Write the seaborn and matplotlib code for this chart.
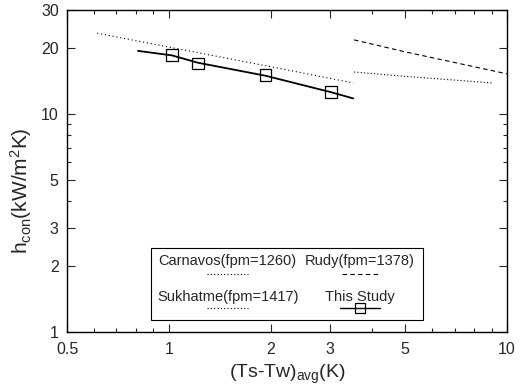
import numpy as np
import pandas as pd
import matplotlib
matplotlib.use("Agg")
import matplotlib.pyplot as plt
import seaborn as sns
from matplotlib.ticker import FixedLocator, NullFormatter, FixedFormatter

# Data
carnavos_x = [0.614, 1.0, 2.0, 3.51]
carnavos_y = [23.5, 20.3, 16.5, 13.9]

rudy_x = [3.53, 5.0, 10.0]
rudy_y = [21.9, 19.3, 15.3]

sukhatme_x = [3.53, 5.0, 9.04]
sukhatme_y = [15.6, 14.9, 13.9]

study_line_x = [0.81, 1.02, 1.22, 1.93, 3.02, 3.51]
study_line_y = [19.5, 18.6, 17.2, 15.0, 12.6, 11.8]
study_pts_x = [1.02, 1.22, 1.93, 3.02]
study_pts_y = [18.7, 17.1, 15.1, 12.6]

sns.set_style("ticks")
plt.rcParams['font.family'] = ['Liberation Sans', 'DejaVu Sans']
plt.rcParams['mathtext.fontset'] = 'custom'
plt.rcParams['mathtext.rm'] = 'Liberation Sans'
plt.rcParams['mathtext.it'] = 'Liberation Sans'

fig = plt.figure(figsize=(5.2, 3.88), dpi=100)
ax = fig.add_axes([0.129, 0.144, 0.846, 0.830])


def df(x, y):
    return pd.DataFrame({"x": x, "y": y})


sns.lineplot(data=df(carnavos_x, carnavos_y), x="x", y="y", ax=ax,
             color="black", lw=0.8, linestyle=(0, (1, 2.5)))
sns.lineplot(data=df(rudy_x, rudy_y), x="x", y="y", ax=ax,
             color="black", lw=0.8, linestyle=(0, (4, 3)))
sns.lineplot(data=df(sukhatme_x, sukhatme_y), x="x", y="y", ax=ax,
             color="black", lw=0.8, linestyle=(0, (1, 2)))
sns.lineplot(data=df(study_line_x, study_line_y), x="x", y="y", ax=ax,
             color="black", lw=1.3)
sns.scatterplot(data=df(study_pts_x, study_pts_y), x="x", y="y", ax=ax,
                marker="s", s=70, facecolor="none", edgecolor="black", linewidth=0.9)

ax.set_xscale("log")
ax.set_yscale("log")
ax.set_xlim(0.5, 10)
ax.set_ylim(1, 30)

xt = [0.5, 1, 2, 3, 5, 10]
yt = [1, 2, 3, 5, 10, 20, 30]
ax.xaxis.set_major_locator(FixedLocator(xt))
ax.xaxis.set_major_formatter(FixedFormatter(["0.5", "1", "2", "3", "5", "10"]))
ax.xaxis.set_minor_locator(FixedLocator([0.6, 0.7, 0.8, 0.9, 4, 6, 7, 8, 9]))
ax.xaxis.set_minor_formatter(NullFormatter())
ax.yaxis.set_major_locator(FixedLocator(yt))
ax.yaxis.set_major_formatter(FixedFormatter(["1", "2", "3", "5", "10", "20", "30"]))
ax.yaxis.set_minor_locator(FixedLocator([4, 6, 7, 8, 9]))
ax.yaxis.set_minor_formatter(NullFormatter())
ax.tick_params(which="both", direction="in", top=True, right=True, labelsize=11.5)
ax.tick_params(axis="x", which="major", pad=7)
ax.tick_params(axis="y", which="major", pad=6)
ax.tick_params(which="major", length=6, width=0.8)
ax.tick_params(which="minor", length=3, width=0.8)
for s in ax.spines.values():
    s.set_linewidth(1.0)
    s.set_color("black")

ax.set_xlabel("(Ts-Tw)$_{\\rm avg}$(K)", fontsize=14, labelpad=4)
ax.set_ylabel("h$_{\\rm con}$(kW/m$^{\\rm 2}$K)", fontsize=15)
ax.yaxis.set_label_coords(-0.075, 0.44)

# Legend drawn in axes coordinates (label above sample line)
ax.add_patch(plt.Rectangle((0.191, 0.037), 0.618, 0.224, transform=ax.transAxes,
                           fill=False, edgecolor="black", lw=0.8))
tkw = dict(transform=ax.transAxes, fontsize=10.5, ha="center", va="center")
ax.text(0.365, 0.220, "Carnavos(fpm=1260)", **tkw)
ax.text(0.666, 0.220, "Rudy(fpm=1378)", **tkw)
ax.text(0.365, 0.109, "Sukhatme(fpm=1417)", **tkw)
ax.text(0.666, 0.109, "This Study", **tkw)
ax.plot([0.318, 0.411], [0.180, 0.180], transform=ax.transAxes, color="black",
        lw=0.8, linestyle=(0, (1, 2)))
ax.plot([0.625, 0.711], [0.180, 0.180], transform=ax.transAxes, color="black",
        lw=0.8, linestyle=(0, (4, 3)))
ax.plot([0.318, 0.411], [0.075, 0.075], transform=ax.transAxes, color="black",
        lw=0.8, linestyle=(0, (1, 2)))
ax.plot([0.620, 0.711], [0.075, 0.075], transform=ax.transAxes, color="black", lw=1.0)
ax.plot([0.666], [0.075], transform=ax.transAxes, marker="s", ms=7,
        mfc="none", mec="black", mew=0.9)

fig.savefig("out.png", dpi=100)
